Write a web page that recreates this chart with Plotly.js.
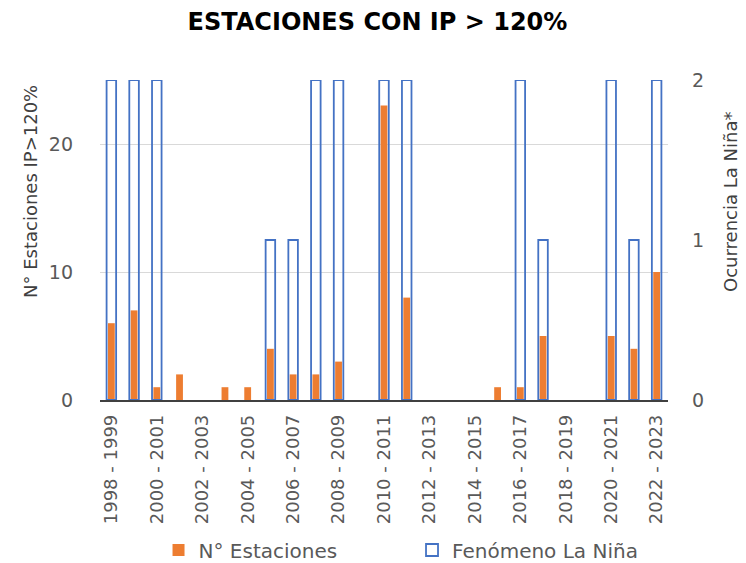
<!DOCTYPE html>
<html>
<head>
<meta charset="utf-8">
<script src="https://cdn.plot.ly/plotly-3.0.1.min.js"></script>
<style>html,body{margin:0;padding:0;background:#fff;}</style>
</head>
<body>
<div id="chart" style="width:746px;height:563px;"></div>
<script>
const categories = ["1998 - 1999","1999 - 2000","2000 - 2001","2001 - 2002","2002 - 2003","2003 - 2004","2004 - 2005","2005 - 2006","2006 - 2007","2007 - 2008","2008 - 2009","2009 - 2010","2010 - 2011","2011 - 2012","2012 - 2013","2013 - 2014","2014 - 2015","2015 - 2016","2016 - 2017","2017 - 2018","2018 - 2019","2019 - 2020","2020 - 2021","2021 - 2022","2022 - 2023"];
const nEstaciones = [6,7,1,2,0,1,1,4,2,2,3,0,23,8,0,0,0,1,1,5,0,0,5,4,10];
const laNina = [2,2,2,0,0,0,0,1,1,2,2,0,2,2,0,0,0,0,2,1,0,0,2,1,2];
const tickLabels = ["1998 - 1999","2000 - 2001","2002 - 2003","2004 - 2005","2006 - 2007","2008 - 2009","2010 - 2011","2012 - 2013","2014 - 2015","2016 - 2017","2018 - 2019","2020 - 2021","2022 - 2023"];
const leftTicks = [0,10,20];
const rightTicks = [0,1,2];
const leftAxisTitle = "N° Estaciones IP>120%";
const rightAxisTitle = "Ocurrencia La Niña*";

const FONT = "DejaVu Sans";
// zero values are drawn as empty (as in the original chart)
const blankZero = v => (v === 0 ? null : v);

const traces = [
  {
    type: "bar", name: "N° Estaciones", x: categories, y: nEstaciones.map(blankZero),
    yaxis: "y", width: 0.3, legend: "legend",
    marker: {color: "#ED7D31", line: {width: 0}},
    hoverinfo: "x+y"
  },
  {
    type: "bar", name: "Fenómeno La Niña", x: categories, y: laNina.map(blankZero),
    yaxis: "y2", width: 0.42, legend: "legend2",
    marker: {color: "rgba(0,0,0,0)", line: {color: "#4472C4", width: 1.8}},
    hoverinfo: "x+y"
  }
];

const legendFont = {family: FONT, size: 20, color: "#595959"};
const axisTitleFont = {family: FONT, size: 18, color: "#404040"};
const layout = {
  width: 746, height: 563,
  margin: {l: 100, r: 78, t: 80, b: 163},
  paper_bgcolor: "#ffffff", plot_bgcolor: "#ffffff",
  font: {family: FONT, color: "#595959"},
  barmode: "overlay",
  showlegend: true,
  title: {
    text: "ESTACIONES CON IP > 120%",
    font: {family: FONT, size: 24, weight: 700, color: "#000000"},
    x: 0.506, xref: "container", xanchor: "center",
    y: 0.961, yref: "container", yanchor: "middle"
  },
  xaxis: {
    type: "category", range: [-0.5, 24.5],
    tickmode: "array", tickvals: tickLabels, ticktext: tickLabels,
    tickangle: -90, tickfont: {family: FONT, size: 18, color: "#595959"},
    ticks: "", ticklabelstandoff: 6,
    showline: true, linecolor: "#404040", linewidth: 1.5,
    showgrid: false, zeroline: false, automargin: false, fixedrange: true
  },
  yaxis: {
    range: [0, 25], tickmode: "array", tickvals: leftTicks,
    tickfont: {family: FONT, size: 19, color: "#595959"},
    ticklabelstandoff: 26,
    showgrid: true, gridcolor: "#d9d9d9", gridwidth: 1,
    zeroline: false, showline: false, automargin: false,
    fixedrange: true
  },
  yaxis2: {
    range: [0, 2], overlaying: "y", side: "right",
    tickmode: "array", tickvals: rightTicks,
    tickfont: {family: FONT, size: 19, color: "#595959"},
    ticklabelstandoff: 23,
    showgrid: false, zeroline: false, showline: false, automargin: false,
    fixedrange: true
  },
  annotations: [
    {text: leftAxisTitle, textangle: -90, font: axisTitleFont, showarrow: false,
     xref: "paper", yref: "paper", x: -0.1232, y: 0.65, xanchor: "center", yanchor: "middle"},
    {text: rightAxisTitle, textangle: -90, font: axisTitleFont, showarrow: false,
     xref: "paper", yref: "paper", x: 1.111, y: 0.619, xanchor: "center", yanchor: "middle"}
  ],
  legend: {
    orientation: "h", xref: "container", yref: "container",
    x: 0.2125, xanchor: "left", y: 0.0577, yanchor: "top",
    font: legendFont, bgcolor: "rgba(0,0,0,0)"
  },
  legend2: {
    orientation: "h", xref: "container", yref: "container",
    x: 0.5523, xanchor: "left", y: 0.0577, yanchor: "top",
    font: legendFont, bgcolor: "rgba(0,0,0,0)"
  }
};

Plotly.newPlot("chart", traces, layout, {displayModeBar: false, staticPlot: true});
</script>
</body>
</html>
